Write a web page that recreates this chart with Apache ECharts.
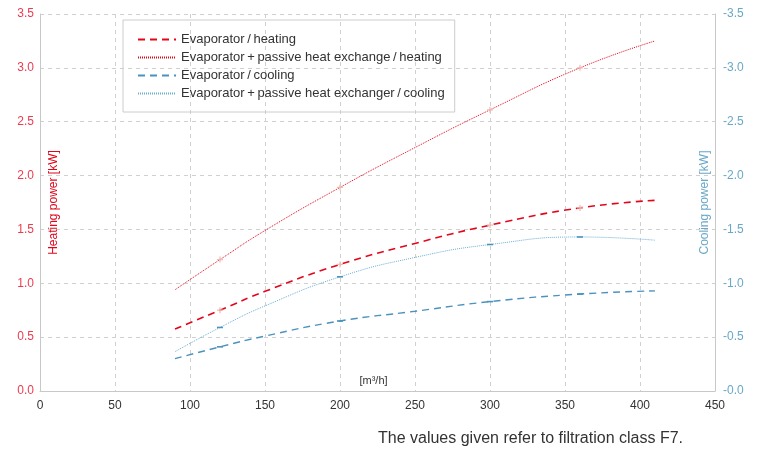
<!DOCTYPE html>
<html><head><meta charset="utf-8">
<script src="https://cdn.jsdelivr.net/npm/echarts@6/dist/echarts.min.js"></script>
<style>html,body{margin:0;padding:0;background:#fff}#c{width:759px;height:451px}</style>
</head><body><div id="c"></div>
<script>
var airflow = [90, 120, 150, 200, 250, 300, 360, 410];
var markedAirflow = [120, 200, 300, 360];
var evapHeating = [0.575, 0.75, 0.925, 1.175, 1.37, 1.54, 1.70, 1.77];
var passiveHeating = [0.94, 1.22, 1.49, 1.89, 2.26, 2.61, 3.00, 3.25];
var evapCooling = [-0.30, -0.41, -0.51, -0.65, -0.74, -0.83, -0.90, -0.93];
var passiveCooling = [-0.365, -0.59, -0.79, -1.06, -1.24, -1.36, -1.43, -1.40];
var xTicks = [0, 50, 100, 150, 200, 250, 300, 350, 400, 450];
var names = ['Evaporator\u2009/\u2009heating', 'Evaporator\u2009+\u2009passive heat exchange\u2009/\u2009heating', 'Evaporator\u2009/\u2009cooling', 'Evaporator\u2009+\u2009passive heat exchanger\u2009/\u2009cooling'];

var RED = '#e3061b', BLUE = '#4b93bd', LBLUE = '#69aed3';
var PLUS = 'path://M0,2h5v1h-5zM2,0h1v5h-1z';
function pairs(ys, mark){
  return airflow.map(function(x,i){
    var item = {value: [x, ys[i]]};
    if (markedAirflow.indexOf(x) >= 0) {
      item.symbol = mark.symbol; item.symbolSize = mark.size;
      item.itemStyle = {color: mark.color, opacity: 1};
    } else { item.symbol = 'none'; }
    return item;
  });
}
var redMark = {symbol: PLUS, size: 6, color: '#efb9b2'};
var blueMark = {symbol: 'rect', size: [6, 1.6], color: '#4b93bd'};
var FONT = 'Liberation Sans';
var chart = echarts.init(document.getElementById('c'));
chart.setOption({
  animation: false,
  textStyle: {fontFamily: FONT},
  grid: {left: 40, right: 44, top: 14, bottom: 60, containLabel: false, outerBoundsMode: 'none'},
  legend: {
    orient: 'vertical', left: 123, top: 20, padding: [13, 10, 12, 14],
    borderColor: '#cccccc', borderWidth: 1, itemWidth: 38, itemHeight: 14, itemGap: 5,
    itemStyle: {opacity: 0},
    textStyle: {fontSize: 13, color: '#333', fontFamily: FONT},
    data: names
  },
  xAxis: {
    type: 'value', min: 0, max: 450, interval: 50, nameMoveOverlap: false,
    name: '[m\u00b3/h]', nameLocation: 'middle', nameGap: -16,
    nameTextStyle: {color: '#333', fontSize: 11, padding: [0, 8, 0, 0]},
    axisLine: {lineStyle: {color: '#c8c8c8'}}, axisTick: {show: false},
    axisLabel: {color: '#333', fontSize: 12, margin: 9, formatter: function(v){return xTicks.indexOf(v) >= 0 ? String(v) : '';}},
    splitLine: {show: true, lineStyle: {color: '#d0d0d0', type: [4, 4]}}
  },
  yAxis: [{
    type: 'value', min: 0, max: 3.5, interval: 0.5, nameMoveOverlap: false,
    name: 'Heating power [kW]', nameLocation: 'middle', nameGap: -20, nameRotate: 90,
    nameTextStyle: {color: RED, fontSize: 12},
    axisLine: {show: true, lineStyle: {color: '#c8c8c8'}}, axisTick: {show: false},
    axisLabel: {color: '#ea3b4f', fontSize: 12, margin: 6, formatter: function(v){return v.toFixed(1);}},
    splitLine: {show: true, lineStyle: {color: '#d0d0d0', type: [4, 4]}}
  }, {
    type: 'value', min: -3.5, max: 0, interval: 0.5, inverse: true, position: 'right', nameMoveOverlap: false,
    name: 'Cooling power [kW]', nameLocation: 'middle', nameGap: -16, nameRotate: 90,
    nameTextStyle: {color: '#6aa8c8', fontSize: 12},
    axisLine: {show: true, lineStyle: {color: '#c8c8c8'}}, axisTick: {show: false},
    axisLabel: {color: '#6aa8c8', fontSize: 12, margin: 8, formatter: function(v){return v === 0 ? '-0.0' : v.toFixed(1);}},
    splitLine: {show: false}
  }],
  series: [
    {name: names[0], type: 'line', smooth: 0.5, yAxisIndex: 0, z: 3, data: pairs(evapHeating, redMark), showSymbol: true, symbol: 'none',
     lineStyle: {color: RED, width: 1.6, type: [7, 5]}, itemStyle: {color: RED}},
    {name: names[1], type: 'line', smooth: 0.5, yAxisIndex: 0, z: 3, data: pairs(passiveHeating, redMark), showSymbol: true, symbol: 'none',
     lineStyle: {color: RED, width: 1, type: [1, 1]}, itemStyle: {color: RED}},
    {name: names[2], type: 'line', smooth: 0.5, yAxisIndex: 1, z: 3, data: pairs(evapCooling, blueMark), showSymbol: true, symbol: 'none',
     lineStyle: {color: BLUE, width: 1.4, type: [7, 5]}, itemStyle: {color: BLUE}},
    {name: names[3], type: 'line', smooth: 0.5, yAxisIndex: 1, z: 3, data: pairs(passiveCooling, blueMark), showSymbol: true, symbol: 'none',
     lineStyle: {color: LBLUE, width: 1, type: [1, 1]}, itemStyle: {color: LBLUE}}
  ],
  graphic: [{
    type: 'text', left: 378, top: 431,
    style: {text: 'The values given refer to filtration class F7.', fill: '#333', font: '16px "Liberation Sans"'}
  }]
});
</script></body></html>
